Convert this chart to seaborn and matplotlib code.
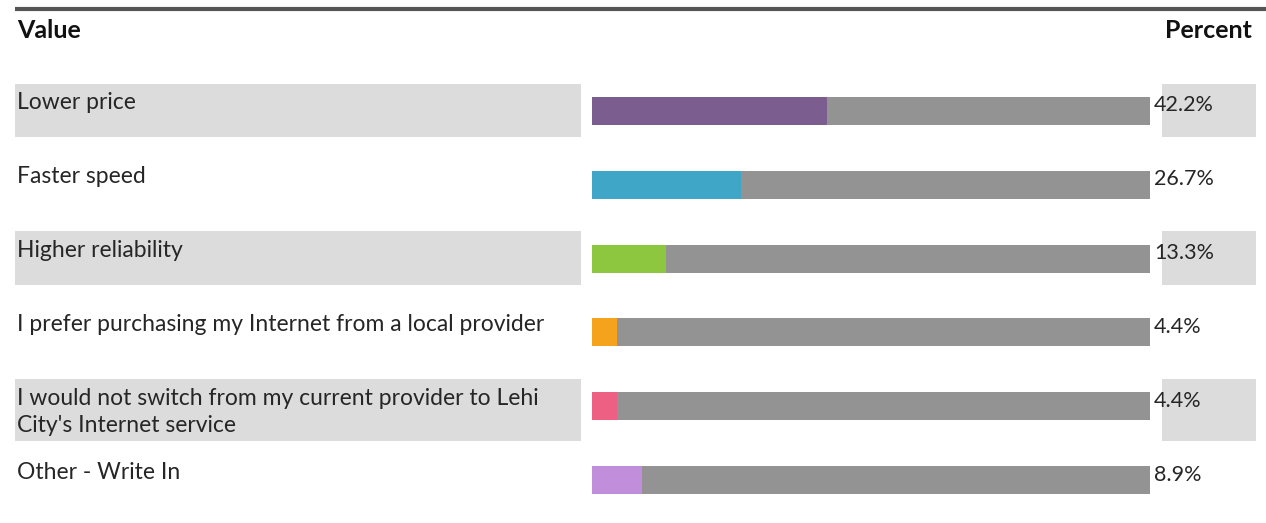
import matplotlib
matplotlib.use("Agg")
import matplotlib.pyplot as plt
import seaborn as sns
import pandas as pd
from matplotlib.transforms import blended_transform_factory
from matplotlib.patches import Rectangle
from matplotlib.lines import Line2D

# Survey answers and their shares (percent)
categories = [
    "Lower price",
    "Faster speed",
    "Higher reliability",
    "I prefer purchasing my Internet from a local provider",
    "I would not switch from my current provider to Lehi\nCity's Internet service",
    "Other - Write In",
]
percents = [42.2, 26.7, 13.3, 4.4, 4.4, 8.9]
percent_labels = ["42.2%", "26.7%", "13.3%", "4.4%", "4.4%", "8.9%"]
track_total = [100, 100, 100, 100, 100, 100]
bar_colors = ["#7b5e8f", "#3fa6c8", "#8dc63f", "#f5a31c", "#ee5f84", "#c08edb"]

sns.set_theme(style="white")
plt.rcParams["font.family"] = ["Lato", "DejaVu Sans"]

W, H = 1266, 523
fig = plt.figure(figsize=(W / 100, H / 100), dpi=100)
fig.patch.set_facecolor("white")

df = pd.DataFrame({"answer": categories, "pct": percents, "total": track_total})

ax = fig.add_axes([592 / W, 1 - 517 / H, 558 / W, (517 - 74) / H])
sns.barplot(data=df, x="total", y="answer", color="#939393", width=0.38,
            saturation=1, linewidth=0, ax=ax, zorder=2)
sns.barplot(data=df, x="pct", y="answer", hue="answer", palette=bar_colors,
            width=0.38, saturation=1, linewidth=0, legend=False, ax=ax, zorder=3)
ax.set_xlim(0, 100)
ax.set_ylim(len(categories) - 0.5, -0.5)
ax.set_axis_off()

# Figure-x / row-y coordinates for the table cells
trans = blended_transform_factory(fig.transFigure, ax.transData)
text_color = "#262626"

for i, (label, plabel) in enumerate(zip(categories, percent_labels)):
    if i % 2 == 0:
        two_lines = "\n" in label
        top = i - 0.37
        height = 0.84 if two_lines else 0.73
        for x0, x1 in ((15, 581), (1162, 1256)):
            ax.add_patch(Rectangle((x0 / W, top), (x1 - x0) / W, height,
                                   transform=trans, facecolor="#dcdcdc",
                                   edgecolor="none", clip_on=False, zorder=0))
    ax.text(17 / W, i - 0.25, label, transform=trans, ha="left", va="top",
            fontsize=16.5, color=text_color, clip_on=False, linespacing=1.35)
    ax.text(1154 / W, i - 0.21, plabel, transform=trans, ha="left", va="top",
            fontsize=15.5, color=text_color, clip_on=False)

# Header row and rule above it
fig.add_artist(Line2D([15 / W, 1.0], [1 - 9 / H, 1 - 9 / H], color="#555555",
                      lw=3, solid_capstyle="butt"))
fig.text(17 / W, 1 - 30 / H, "Value", ha="left", va="center", fontsize=18,
         fontweight="bold", color="#111111")
fig.text(1252 / W, 1 - 30 / H, "Percent", ha="right", va="center", fontsize=18,
         fontweight="bold", color="#111111")

fig.savefig("out.png", dpi=100, facecolor="white")
